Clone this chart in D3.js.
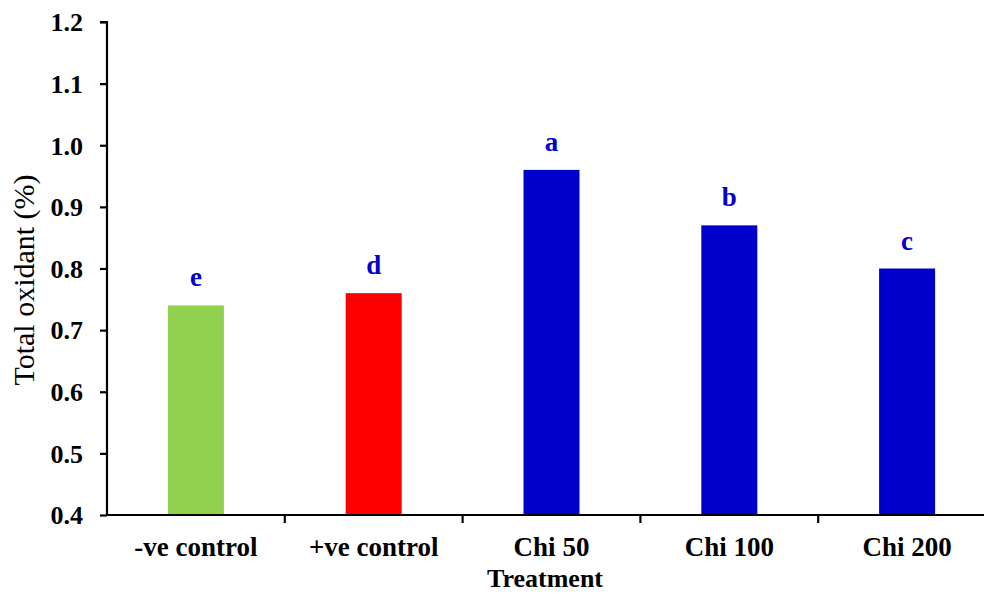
<!DOCTYPE html>
<html>
<head>
<meta charset="utf-8">
<script src="https://cdn.jsdelivr.net/npm/d3@7"></script>
<style>
  body { margin: 0; background: #fff; }
  text { font-family: "Liberation Serif", "Times New Roman", serif; }
</style>
</head>
<body>
<svg id="chart" width="984" height="594"></svg>
<script>
// datos del gráfico
const categorias = ['-ve control', '+ve control', 'Chi 50', 'Chi 100', 'Chi 200'];
const valores = [0.74, 0.76, 0.96, 0.87, 0.80];
const letras = ['e', 'd', 'a', 'b', 'c'];
const colores = ['#92d050', '#ff0000', '#0000cc', '#0000cc', '#0000cc'];
const ticksY = [0.4, 0.5, 0.6, 0.7, 0.8, 0.9, 1.0, 1.1, 1.2];

const svg = d3.select('#chart');
const izq = 107, arriba = 22, abajo = 515, derecha = 996;

const x = d3.scaleBand().domain(categorias).range([izq, derecha]);
const y = d3.scaleLinear().domain([0.4, 1.2]).range([abajo, arriba]);
const anchoBarra = x.bandwidth() * 0.315;

// barras
svg.append('g').selectAll('rect')
  .data(categorias)
  .enter().append('rect')
  .attr('x', (d) => x(d) + x.bandwidth() / 2 - anchoBarra / 2)
  .attr('y', (d, i) => y(valores[i]))
  .attr('width', anchoBarra)
  .attr('height', (d, i) => abajo - y(valores[i]))
  .attr('fill', (d, i) => colores[i]);

// letras de significancia
svg.append('g').selectAll('text')
  .data(categorias)
  .enter().append('text')
  .attr('x', (d) => x(d) + x.bandwidth() / 2)
  .attr('y', (d, i) => y(valores[i]) - 19)
  .attr('text-anchor', 'middle')
  .attr('font-size', 27)
  .attr('font-weight', 'bold')
  .attr('fill', '#0000cc')
  .text((d, i) => letras[i]);

// eje Y
const ejeY = svg.append('g')
  .attr('transform', `translate(${izq},0)`)
  .call(d3.axisLeft(y).tickValues(ticksY).tickFormat(d3.format('.1f')).tickSize(7).tickPadding(17));
ejeY.select('.domain').attr('d', `M-7,${arriba}H0V${abajo}`).attr('stroke-width', 2.2);
ejeY.selectAll('.tick line').attr('stroke-width', 2.2);
ejeY.selectAll('.tick text')
  .attr('font-family', '"Liberation Serif", serif')
  .attr('font-size', 26)
  .attr('font-weight', 'bold')
  .attr('fill', '#000')
  .attr('dy', '0.34em');

// eje X: línea y marcas entre categorías
const ejeX = svg.append('g');
ejeX.append('line')
  .attr('x1', izq).attr('x2', 984)
  .attr('y1', abajo).attr('y2', abajo)
  .attr('stroke', '#000').attr('stroke-width', 2.2);
ejeX.selectAll('line.marca')
  .data(categorias.slice(1))
  .enter().append('line')
  .attr('class', 'marca')
  .attr('x1', (d) => x(d)).attr('x2', (d) => x(d))
  .attr('y1', abajo).attr('y2', abajo + 8)
  .attr('stroke', '#000').attr('stroke-width', 2.2);
ejeX.selectAll('text')
  .data(categorias)
  .enter().append('text')
  .attr('x', (d) => x(d) + x.bandwidth() / 2)
  .attr('y', 556)
  .attr('text-anchor', 'middle')
  .attr('font-size', 27)
  .attr('font-weight', 'bold')
  .text((d) => d);

// títulos
svg.append('text')
  .attr('x', 545).attr('y', 587)
  .attr('text-anchor', 'middle')
  .attr('font-size', 26)
  .attr('font-weight', 'bold')
  .text('Treatment');

svg.append('text')
  .attr('transform', 'translate(34,280) rotate(-90)')
  .attr('text-anchor', 'middle')
  .attr('font-size', 30)
  .text('Total oxidant (%)');
</script>
</body>
</html>
